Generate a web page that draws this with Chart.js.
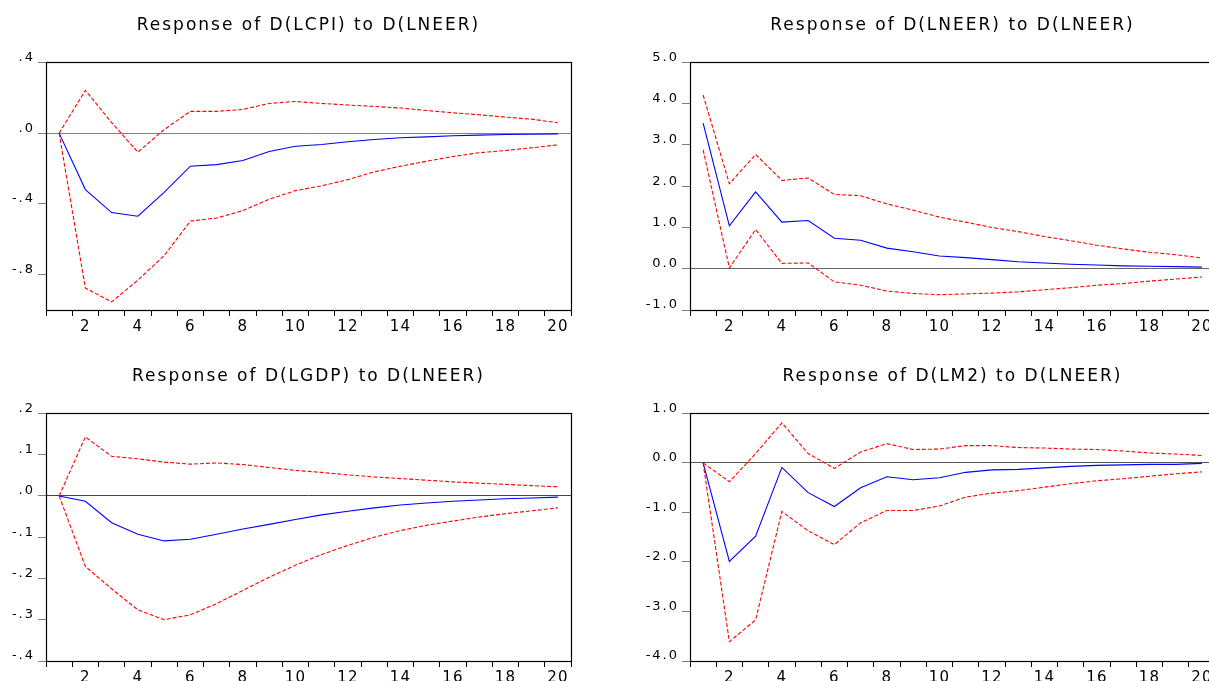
<!DOCTYPE html>
<html>
<head>
<meta charset="utf-8">
<title>Responses to D(LNEER)</title>
<script src="https://cdn.jsdelivr.net/npm/chart.js@4.4.1/dist/chart.umd.min.js"></script>
<style>
html, body { margin: 0; padding: 0; background: #fff; overflow: hidden; }
#wrap { position: relative; width: 1209px; height: 681px; overflow: hidden; background: #fff; }
#wrap canvas { position: absolute; }
</style>
</head>
<body>
<div id="wrap">
    <canvas id="chartCpi" width="617" height="340" style="left:0px;top:0px"></canvas>
    <canvas id="chartNeer" width="617" height="340" style="left:644px;top:0px"></canvas>
    <canvas id="chartGdp" width="617" height="340" style="left:0px;top:351px"></canvas>
    <canvas id="chartM2" width="617" height="340" style="left:644px;top:351px"></canvas>
</div>
<script>
var periods = [1, 2, 3, 4, 5, 6, 7, 8, 9, 10, 11, 12, 13, 14, 15, 16, 17, 18, 19, 20];
var xTickLabels = ['', '2', '', '4', '', '6', '', '8', '', '10', '', '12', '', '14', '', '16', '', '18', '', '20'];

// Response of D(LCPI) to D(LNEER)
var cpiResponse = [0, -0.319, -0.449, -0.470, -0.335, -0.187, -0.178, -0.155, -0.104, -0.074, -0.064, -0.049, -0.036, -0.026, -0.021, -0.015, -0.011, -0.008, -0.006, -0.004];
var cpiUpper = [0, 0.242, 0.060, -0.108, 0.020, 0.123, 0.123, 0.134, 0.168, 0.179, 0.168, 0.159, 0.151, 0.142, 0.128, 0.115, 0.104, 0.091, 0.079, 0.059];
var cpiLower = [0, -0.876, -0.954, -0.831, -0.693, -0.497, -0.480, -0.438, -0.374, -0.325, -0.298, -0.263, -0.219, -0.187, -0.159, -0.132, -0.111, -0.098, -0.083, -0.066];
var cpiTicks = [0.4, 0, -0.4, -0.8];
var cpiTickLabels = ['.4', '.0', '-.4', '-.8'];

// Response of D(LNEER) to D(LNEER)
var neerResponse = [3.53, 1.04, 1.86, 1.13, 1.17, 0.74, 0.69, 0.50, 0.41, 0.31, 0.27, 0.22, 0.17, 0.14, 0.11, 0.09, 0.07, 0.06, 0.05, 0.04];
var neerUpper = [4.21, 2.06, 2.77, 2.14, 2.20, 1.80, 1.77, 1.57, 1.42, 1.25, 1.13, 1.00, 0.90, 0.78, 0.68, 0.57, 0.48, 0.40, 0.34, 0.26];
var neerLower = [2.88, 0.02, 0.95, 0.13, 0.14, -0.32, -0.40, -0.54, -0.60, -0.63, -0.61, -0.59, -0.56, -0.51, -0.46, -0.40, -0.36, -0.30, -0.25, -0.20];
var neerTicks = [5, 4, 3, 2, 1, 0, -1];
var neerTickLabels = ['5.0', '4.0', '3.0', '2.0', '1.0', '0.0', '-1.0'];

// Response of D(LGDP) to D(LNEER)
var gdpResponse = [0, -0.013, -0.065, -0.093, -0.109, -0.105, -0.093, -0.080, -0.069, -0.057, -0.046, -0.037, -0.029, -0.022, -0.017, -0.013, -0.010, -0.007, -0.005, -0.003];
var gdpUpper = [0, 0.143, 0.096, 0.090, 0.082, 0.077, 0.080, 0.076, 0.069, 0.062, 0.057, 0.051, 0.046, 0.042, 0.038, 0.034, 0.031, 0.028, 0.025, 0.022];
var gdpLower = [0, -0.171, -0.225, -0.276, -0.300, -0.288, -0.261, -0.229, -0.197, -0.168, -0.142, -0.120, -0.100, -0.084, -0.071, -0.061, -0.051, -0.043, -0.036, -0.029];
var gdpTicks = [0.2, 0.1, 0, -0.1, -0.2, -0.3, -0.4];
var gdpTickLabels = ['.2', '.1', '.0', '-.1', '-.2', '-.3', '-.4'];

// Response of D(LM2) to D(LNEER)
var m2Response = [0, -1.99, -1.48, -0.09, -0.60, -0.88, -0.50, -0.28, -0.34, -0.30, -0.19, -0.14, -0.13, -0.10, -0.07, -0.05, -0.04, -0.03, -0.03, -0.01];
var m2Upper = [0, -0.38, 0.19, 0.81, 0.19, -0.11, 0.22, 0.39, 0.27, 0.28, 0.35, 0.35, 0.31, 0.30, 0.28, 0.27, 0.24, 0.20, 0.18, 0.15];
var m2Lower = [0, -3.61, -3.17, -0.98, -1.37, -1.65, -1.21, -0.96, -0.96, -0.87, -0.69, -0.61, -0.56, -0.49, -0.42, -0.36, -0.32, -0.27, -0.22, -0.18];
var m2Ticks = [1, 0, -1, -2, -3, -4];
var m2TickLabels = ['1.0', '0.0', '-1.0', '-2.0', '-3.0', '-4.0'];

var fontFamily = 'DejaVu Sans';

// letter spacing for the wide eviews text + box round the plot area
var framePlugin = {
    id: 'framePlugin',
    beforeDraw: function (chart) {
        chart.ctx.letterSpacing = '2px';
    },
    afterDatasetsDraw: function (chart) {
        chart.ctx.letterSpacing = '1px';
    },
    afterDraw: function (chart) {
        var ctx = chart.ctx;
        var a = chart.chartArea;
        ctx.save();
        ctx.letterSpacing = '0px';
        ctx.strokeStyle = '#000';
        ctx.lineWidth = 1.2;
        ctx.strokeRect(Math.round(a.left) + 0.5, Math.round(a.top) + 0.5,
            Math.round(a.right - a.left), Math.round(a.bottom - a.top));
        ctx.restore();
        ctx.letterSpacing = '0px';
    }
};

function drawIrf(canvasId, title, response, upper, lower, yMin, yMax, ticks, tickLabels, zeroColor) {
    var ctx = document.getElementById(canvasId);
    var bandStyle = { borderColor: '#ff0000', borderWidth: 1.1, borderDash: [4, 2], pointRadius: 0, fill: false, tension: 0 };

    var data = {
        labels: periods,
        datasets: [
            Object.assign({ data: upper }, bandStyle),
            Object.assign({ data: lower }, bandStyle),
            { data: response, borderColor: '#0000ff', borderWidth: 1.1, pointRadius: 0, fill: false, tension: 0 }
        ]
    };

    var options = {
        responsive: false,
        animation: false,
        events: [],
        layout: { padding: { left: 0, right: 46, top: 0, bottom: 0 } },
        plugins: {
            legend: { display: false },
            tooltip: { enabled: false },
            title: {
                display: true,
                text: title,
                fullSize: false,
                color: '#000',
                font: { family: fontFamily, size: 17, weight: 'normal', lineHeight: 1.2 },
                padding: { top: 15, bottom: 27 }
            }
        },
        scales: {
            x: {
                type: 'category',
                offset: true,
                grid: { offset: true, drawOnChartArea: false, drawTicks: true, tickLength: 6, tickColor: '#000' },
                border: { display: false },
                ticks: {
                    autoSkip: false,
                    maxRotation: 0,
                    padding: 2,
                    z: 1,
                    color: '#000',
                    font: { family: fontFamily, size: 15 },
                    callback: function (v, i) { return xTickLabels[i]; }
                },
                afterFit: function (s) { s.height = 30; }
            },
            y: {
                min: yMin,
                max: yMax,
                afterBuildTicks: function (s) {
                    s.ticks = ticks.map(function (v) { return { value: v }; });
                },
                grid: {
                    drawOnChartArea: true,
                    color: function (c) { return c.tick && c.tick.value === 0 ? zeroColor : 'rgba(0,0,0,0)'; },
                    tickColor: '#808080',
                    tickLength: 8
                },
                border: { display: false },
                ticks: {
                    padding: 3,
                    labelOffset: -5,
                    color: '#000',
                    font: { family: fontFamily, size: 13 },
                    callback: function (v) { return tickLabels[ticks.indexOf(v)]; }
                },
                afterFit: function (s) { s.width = 46; }
            }
        }
    };

    return new Chart(ctx, { type: 'line', data: data, options: options, plugins: [framePlugin] });
}

drawIrf('chartCpi', 'Response of D(LCPI) to D(LNEER)', cpiResponse, cpiUpper, cpiLower, -1.0, 0.4, cpiTicks, cpiTickLabels, '#808080');
drawIrf('chartNeer', 'Response of D(LNEER) to D(LNEER)', neerResponse, neerUpper, neerLower, -1, 5, neerTicks, neerTickLabels, '#666666');
drawIrf('chartGdp', 'Response of D(LGDP) to D(LNEER)', gdpResponse, gdpUpper, gdpLower, -0.4, 0.2, gdpTicks, gdpTickLabels, '#444444');
drawIrf('chartM2', 'Response of D(LM2) to D(LNEER)', m2Response, m2Upper, m2Lower, -4, 1, m2Ticks, m2TickLabels, '#555555');
</script>
</body>
</html>
